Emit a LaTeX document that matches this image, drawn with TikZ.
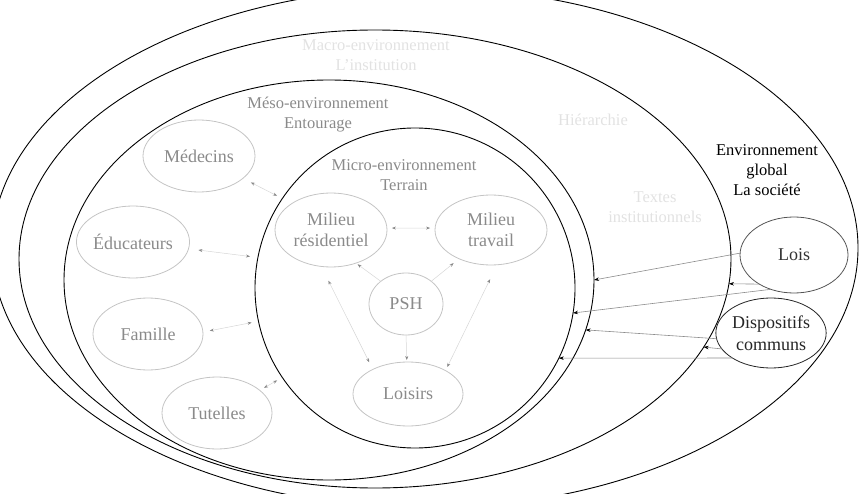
\documentclass[tikz,border=0pt]{standalone}
\usepackage{fontspec}
\setmainfont{Liberation Serif}
\usetikzlibrary{shapes.geometric,arrows.meta}
\definecolor{ellgray}{HTML}{C4C4C4}
\definecolor{txtgray}{HTML}{8A8A8A}
\definecolor{palegray}{HTML}{E2E2E2}
\definecolor{arrgray}{HTML}{D6D6D6}
\definecolor{headgray}{HTML}{888888}
\definecolor{extgray}{HTML}{8C8C8C}
\definecolor{loisline}{HTML}{555555}
\definecolor{loistext}{HTML}{333333}
\begin{document}
\begin{tikzpicture}[x=1pt,y=-1pt,
  bigell/.style={draw=black,line width=0.9pt,ellipse,inner sep=0pt,outer sep=0pt},
  smallell/.style={draw=ellgray,line width=0.8pt,ellipse,inner sep=0pt,outer sep=0pt,
    text=txtgray,font=\fontsize{18}{21.6}\selectfont,align=center},
  extell/.style={ellipse,inner sep=0pt,outer sep=0pt,line width=0.8pt,
    font=\fontsize{18}{21.6}\selectfont,align=center},
  headtxt/.style={text=txtgray,font=\fontsize{16.5}{20}\selectfont,align=center},
  paletxt/.style={text=palegray,font=\fontsize{16.5}{20}\selectfont,align=center},
  biarr/.style={draw=arrgray,line width=0.5pt,
    {Stealth[length=4pt,width=3pt,color=headgray]}-{Stealth[length=4pt,width=3pt,color=headgray]}},
  onearr/.style={draw=arrgray,line width=0.5pt,-{Stealth[length=4pt,width=3pt,color=headgray]}},
  extarr/.style={draw=extgray,line width=0.6pt,-{Stealth[length=5pt,width=3.5pt,color=black]}}
]
\useasboundingbox (0,0) rectangle (861,494);
\clip (0,0) rectangle (861,494);

% nested environments
\node[bigell,minimum width=866,minimum height=520] (glob) at (425,248) {};
\node[bigell,minimum width=712,minimum height=458] (macro) at (375,259) {};
\node[bigell,minimum width=530,minimum height=400] (meso) at (329,280) {};
\node[bigell,minimum width=320,minimum height=320] (micro) at (415,288) {};

% headings
\node[paletxt] (tmacro) at (376,55) {Macro-environnement\\L'institution};
\node[headtxt] (tmeso) at (318,115) {Méso-environnement\\Entourage};
\node[headtxt] (tmicro) at (404,175) {Micro-environnement\\Terrain};
\node[paletxt] (thier) at (593,120) {Hiérarchie};
\node[paletxt] (ttextes) at (655,207) {Textes\\institutionnels};
\node[font=\fontsize{16.5}{20}\selectfont,align=center,text=black] (tglob) at (767,170)
  {Environnement\\global\\La société};

% entourage
\node[smallell,minimum width=112,minimum height=72] (med) at (199,156) {Médecins};
\node[smallell,minimum width=110,minimum height=72] (edu) at (133,242) {Éducateurs};
\node[smallell,minimum width=110,minimum height=72] (fam) at (148,334) {Famille};
\node[smallell,minimum width=110,minimum height=72] (tut) at (217,413) {Tutelles};

% terrain
\node[smallell,minimum width=112,minimum height=74] (mr) at (331,230) {Milieu\\résidentiel};
\node[smallell,minimum width=112,minimum height=70] (mt) at (491,230) {Milieu\\travail};
\node[smallell,minimum width=74,minimum height=62] (psh) at (406,304) {PSH};
\node[smallell,minimum width=110,minimum height=64] (loisirs) at (408,394) {Loisirs};

% society
\node[extell,draw=loisline,text=loistext,minimum width=108,minimum height=76] (lois) at (794,255) {Lois};
\node[extell,draw=black!85,text=black!85,minimum width=108,minimum height=70] (disp) at (771,333) {Dispositifs\\communs};

% entourage <-> terrain
\draw[biarr,shorten <=9pt,shorten >=6pt] (med.-27) -- (micro.146);
\draw[biarr,shorten <=10pt,shorten >=8pt] (edu.-7) -- (micro.169);
\draw[biarr,shorten <=7pt,shorten >=7pt] (fam.2) -- (micro.192);
\draw[biarr,shorten <=5pt,shorten >=6pt] (tut.28) -- (micro.214);

% within terrain
\draw[biarr,shorten <=5pt,shorten >=5pt] (mr.2) -- (mt.178);
\draw[onearr,shorten >=2pt] (psh.138) -- (mr.-53);
\draw[onearr,shorten >=7pt] (psh.42) -- (mt.222);
\draw[onearr,shorten >=2pt] (psh.-90) -- (loisirs.92);
\draw[biarr,shorten <=16pt,shorten >=8pt] (mr.-105) -- (loisirs.145);
\draw[biarr,shorten <=16pt,shorten >=4pt] (mt.-80) -- (loisirs.32);

% society -> environments
\draw[extarr] (lois.178) -- (meso.0);
\draw[extarr] (lois.220) -- (macro.-4);
\draw[extarr] (lois.-124) -- (micro.-9);
\draw[extarr] (disp.186) -- (meso.-11);
\draw[extarr] (disp.198) -- (macro.-15);
\draw[extarr] (disp.213) -- (micro.-26);
\end{tikzpicture}
\end{document}
